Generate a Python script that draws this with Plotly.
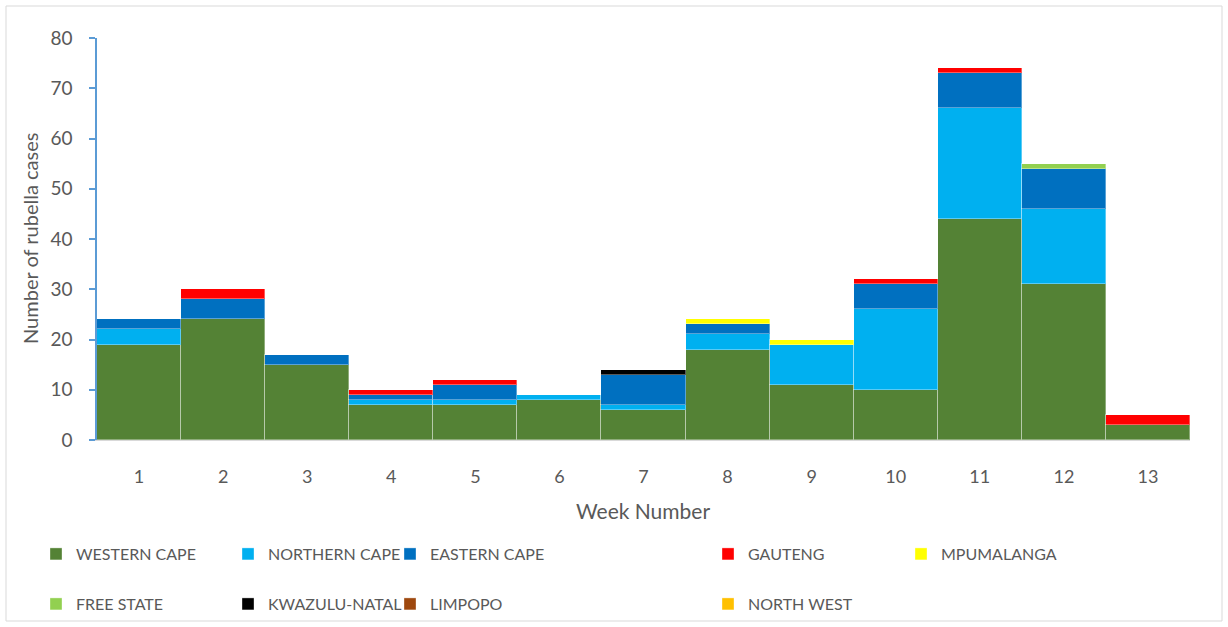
import plotly.graph_objects as go

weeks = list(range(1, 14))
week_labels = [str(w) for w in weeks]

western_cape = [19, 24, 15, 7, 7, 8, 6, 18, 11, 10, 44, 31, 3]
northern_cape = [3, 0, 0, 1, 1, 1, 1, 3, 8, 16, 22, 15, 0]
eastern_cape = [2, 4, 2, 1, 3, 0, 6, 2, 0, 5, 7, 8, 0]
gauteng = [0, 2, 0, 1, 1, 0, 0, 0, 0, 1, 1, 0, 2]
mpumalanga = [0, 0, 0, 0, 0, 0, 0, 1, 1, 0, 0, 0, 0]
free_state = [0, 0, 0, 0, 0, 0, 0, 0, 0, 0, 0, 1, 0]
kwazulu_natal = [0, 0, 0, 0, 0, 0, 1, 0, 0, 0, 0, 0, 0]
limpopo = [0] * 13
north_west = [0] * 13

series = [
    ("WESTERN CAPE", western_cape, "#548235"),
    ("NORTHERN CAPE", northern_cape, "#00B0F0"),
    ("EASTERN CAPE", eastern_cape, "#0070C0"),
    ("GAUTENG", gauteng, "#FF0000"),
    ("MPUMALANGA", mpumalanga, "#FFFF00"),
    ("FREE STATE", free_state, "#92D050"),
    ("KWAZULU-NATAL", kwazulu_natal, "#000000"),
    ("LIMPOPO", limpopo, "#9E480E"),
    ("NORTH WEST", north_west, "#FFC000"),
]

L, R, T, B = 97, 38, 38, 187
W, H = 1228 - L - R, 627 - T - B
leg_pos = [(56, 554), (248, 554), (410, 554), (728, 554), (921, 554),
           (56, 604), (248, 604), (410, 604), (728, 604)]

FONT = "Lato"
TXT = "#595959"

fig = go.Figure()
layout_legends = {}
for i, (name, vals, col) in enumerate(series):
    lname = "legend" if i == 0 else f"legend{i+1}"
    fig.add_trace(go.Bar(
        x=weeks, y=vals, name=name, legend=lname,
        marker=dict(color=col, line=dict(color="rgba(255,255,255,0.35)", width=1)),
        width=1,
    ))
    px, py = leg_pos[i]
    layout_legends[lname] = dict(
        x=(px - 20 - L) / W, xanchor="left",
        y=(T + H - py) / H, yanchor="middle",
        font=dict(family=FONT, size=16, color=TXT),
        bgcolor="rgba(0,0,0,0)", borderwidth=0,
        itemwidth=30, itemclick=False,
    )

fig.update_layout(
    barmode="stack", bargap=0,
    width=1228, height=627,
    margin=dict(l=L, r=R, t=T, b=B, autoexpand=False),
    plot_bgcolor="white", paper_bgcolor="white",
    font=dict(family=FONT, color=TXT),
    showlegend=True,
    **layout_legends,
)

fig.update_xaxes(
    range=[0.5, 13.5], tickvals=weeks, ticktext=week_labels,
    showgrid=False, zeroline=False, showline=True, linecolor="#D9D9D9", linewidth=1,
    ticks="", tickfont=dict(family=FONT, size=18, color=TXT), ticklabelstandoff=20,
)
fig.update_yaxes(
    range=[0, 80], dtick=10, showgrid=False, zeroline=False,
    showline=True, linecolor="#5B9BD5", linewidth=1.5,
    ticks="outside", ticklen=6, tickcolor="#5B9BD5", tickwidth=1.5,
    tickfont=dict(family=FONT, size=19, color=TXT), ticklabelstandoff=13,
)

fig.add_annotation(text="Week Number", xref="paper", yref="paper",
                   x=(643 - L) / W, y=(T + H - 510) / H, showarrow=False,
                   xanchor="center", yanchor="middle",
                   font=dict(family=FONT, size=21, color=TXT))
fig.add_annotation(text="Number of rubella cases", xref="paper", yref="paper",
                   x=(30 - L) / W, y=(T + H - 239) / H, showarrow=False, textangle=-90,
                   xanchor="center", yanchor="middle",
                   font=dict(family=FONT, size=20, color=TXT))

fig.add_shape(type="rect", xref="paper", yref="paper",
              x0=(6 - L) / W, x1=(1222 - L) / W, y0=(T + H - 621) / H, y1=(T + H - 6) / H,
              line=dict(color="#D9D9D9", width=1), fillcolor="rgba(0,0,0,0)", layer="below")

fig.write_html("out.html")
